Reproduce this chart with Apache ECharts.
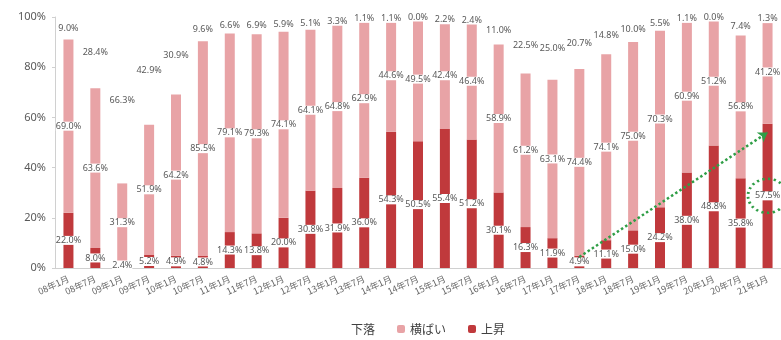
<!DOCTYPE html>
<html lang="ja">
<head>
    <meta charset="UTF-8">
    <title>chart</title>
    <script src="https://cdn.jsdelivr.net/npm/echarts@6/dist/echarts.min.js"></script>
    <style>
        html, body { margin: 0; padding: 0; background: #fff; }
    </style>
</head>
<body>
    <div id="main" style="width: 781px;height:340px;"></div>
</body>

<script>
    // データ
    var months = ['08年1月','08年7月','09年1月','09年7月','10年1月','10年7月','11年1月','11年7月','12年1月',
        '12年7月','13年1月','13年7月','14年1月','14年7月','15年1月','15年7月','16年1月','16年7月',
        '17年1月','17年7月','18年1月','18年7月','19年1月','19年7月','20年1月','20年7月','21年1月'];
    var up = [22.0, 8.0, 2.4, 5.2, 4.9, 4.8, 14.3, 13.8, 20.0, 30.8, 31.9, 36.0, 54.3, 50.5,
        55.4, 51.2, 30.1, 16.3, 11.9, 4.9, 11.1, 15.0, 24.2, 38.0, 48.8, 35.8, 57.5];
    var flat = [69.0, 63.6, 31.3, 51.9, 64.2, 85.5, 79.1, 79.3, 74.1, 64.1, 64.8, 62.9, 44.6, 49.5,
        42.4, 46.4, 58.9, 61.2, 63.1, 74.4, 74.1, 75.0, 70.3, 60.9, 51.2, 56.8, 41.2];
    var down = [9.0, 28.4, 66.3, 42.9, 30.9, 9.6, 6.6, 6.9, 5.9, 5.1, 3.3, 1.1, 1.1, 0.0,
        2.2, 2.4, 11.0, 22.5, 25.0, 20.7, 14.8, 10.0, 5.5, 1.1, 0.0, 7.4, 1.3];
    var yTicks = [0, 20, 40, 60, 80, 100];
    // 矢印（注記）
    var arrowFrom = ['17年7月', 4.4];
    var arrowTo = ['21年1月', 54];

    var green = '#2f9e46';
    var myChart = echarts.init(document.getElementById('main'));

    function segLabel() {
        return {
            show: true,
            position: 'inside',
            color: '#595959',
            fontSize: 9,
            fontFamily: 'Noto Sans',
            backgroundColor: '#fff',
            padding: [0, 0],
            formatter: function (p) {
                return p.value.toFixed(1) + '%';
            }
        };
    }

    var option = {
        animation: false,
        textStyle: { fontFamily: '"Noto Sans CJK JP", "Noto Sans", sans-serif' },
        grid: { left: 55, right: 0, top: 17, bottom: 72 },
        legend: {
            data: ['下落', '横ばい', '上昇'],
            left: 333,
            top: 318,
            itemWidth: 8,
            itemHeight: 8,
            itemGap: 22,
            textStyle: { fontSize: 12, color: '#404040', fontFamily: '"Noto Sans CJK JP"' }
        },
        xAxis: {
            type: 'category',
            data: months,
            axisLine: { lineStyle: { color: '#d0d0d0' } },
            axisTick: { show: false },
            axisLabel: {
                interval: 0,
                rotate: 25,
                fontSize: 9,
                color: '#666',
                margin: 10,
                fontFamily: '"Noto Sans CJK JP"'
            }
        },
        yAxis: {
            type: 'value',
            min: yTicks[0],
            max: yTicks[yTicks.length - 1],
            interval: 20,
            axisLine: { show: true, lineStyle: { color: '#d0d0d0' } },
            axisTick: { show: true, length: 3, lineStyle: { color: '#d0d0d0' } },
            splitLine: { show: false },
            axisLabel: {
                fontSize: 11,
                color: '#595959',
                margin: 9,
                fontFamily: 'Noto Sans',
                formatter: '{value}%'
            }
        },
        series: [
            {
                name: '上昇',
                type: 'bar',
                stack: 'all',
                barWidth: 10,
                data: up,
                itemStyle: { color: '#c0393c' },
                label: segLabel(),
                markLine: {
                    silent: true,
                    symbol: ['none', 'arrow'],
                    symbolSize: 9,
                    label: { show: false },
                    lineStyle: { color: green, type: 'dotted', width: 2.5 },
                    data: [[{ coord: arrowFrom }, { coord: arrowTo }]]
                }
            },
            {
                name: '横ばい',
                type: 'bar',
                stack: 'all',
                barWidth: 10,
                data: flat,
                itemStyle: { color: '#e8a3a6' },
                label: segLabel()
            },
            {
                name: '下落',
                type: 'bar',
                stack: 'all',
                barWidth: 10,
                data: down,
                itemStyle: { color: 'rgba(255,255,255,0)' },
                label: segLabel()
            }
        ]
    };

    myChart.setOption(option);

    // 最新値を囲む点線の楕円
    var last = months.length - 1;
    var c = myChart.convertToPixel({ seriesIndex: 0 }, [months[last], up[last] / 2]);
    myChart.setOption({
        graphic: [{
            type: 'circle',
            x: c[0],
            y: c[1],
            scaleX: 1.15,
            shape: { cx: 0, cy: 0, r: 17 },
            style: { fill: 'none', stroke: green, lineWidth: 2.5, lineDash: [2, 3] },
            z: 100
        }]
    });
</script>
</html>
